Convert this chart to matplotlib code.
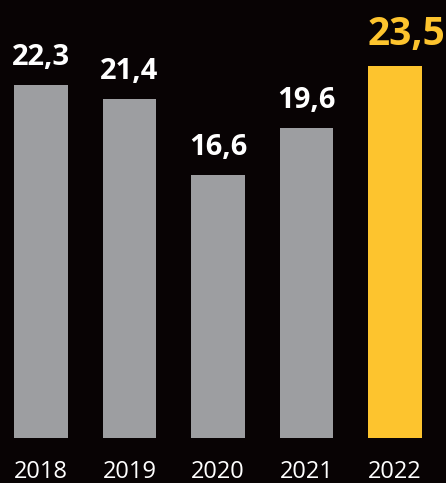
import matplotlib as mpl
import matplotlib.pyplot as plt
import numpy as np

mpl.use("agg")

years = ["2018", "2019", "2020", "2021", "2022"]
values = [22.3, 21.4, 16.6, 19.6, 23.5]
labels = ["22,3", "21,4", "16,6", "19,6", "23,5"]

bg = "#080304"
grey = "#9d9ea1"
yellow = "#fdc42e"

fig = plt.figure(figsize=(4.46, 4.83), dpi=100, facecolor=bg)
# axes bottom sits at the bar baseline (45 px from bottom)
ax = fig.add_axes([0, 45 / 483, 1, 438 / 483], facecolor=bg)

x = np.arange(len(years))
colors = [grey] * 4 + [yellow]
ax.bar(x, values, width=0.61, color=colors)

for i, (v, lab) in enumerate(zip(values, labels)):
    if i == len(values) - 1:
        ax.annotate(lab, (x[i], v), xytext=(8, 15), textcoords="offset points",
                    ha="center", va="baseline", color=yellow,
                    fontsize=28, fontweight="bold", family="Open Sans")
    else:
        ax.annotate(lab, (x[i], v), xytext=(0, 14.4), textcoords="offset points",
                    ha="center", va="baseline", color="white",
                    fontsize=21, fontweight="bold", family="Open Sans")

# pixel mapping: bar centres at 41 px, pitch 88.5 px
ax.set_xlim(-41 / 88.5, (446 - 41) / 88.5)
ax.set_ylim(0, 438 / 15.83)

ax.set_xticks(x)
ax.set_xticklabels(years, color="white", fontsize=17, fontweight="normal", family="Open Sans")
ax.tick_params(axis="x", length=0, pad=16)
ax.set_yticks([])
for s in ax.spines.values():
    s.set_visible(False)

fig.savefig("out.png", dpi=100, facecolor=bg)
